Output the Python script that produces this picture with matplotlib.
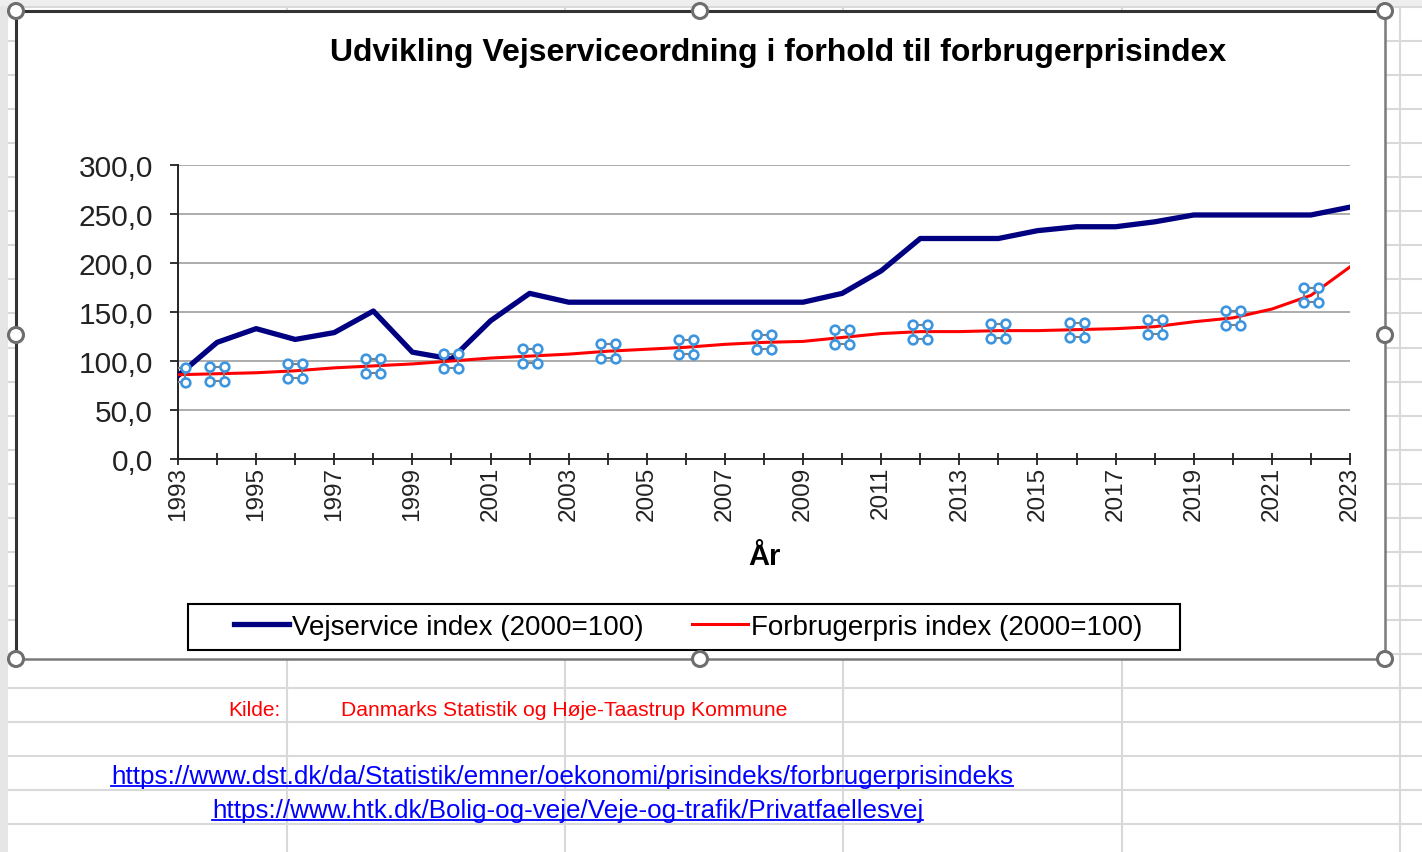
import matplotlib
matplotlib.use("Agg")
import matplotlib.pyplot as plt
from matplotlib.path import Path
from matplotlib.patches import Rectangle, Circle
import numpy as np

plt.rcParams['font.family'] = ['Liberation Sans', 'DejaVu Sans']

# data
years = list(range(1993, 2024))
vejservice = [85, 119, 133, 122, 129, 151, 109, 102, 141, 169, 160, 160, 160, 160,
              160, 160, 160, 169, 192, 225, 225, 225, 233, 237, 237, 242, 249, 249,
              249, 249, 257]
forbrugerpris = [86, 87, 88, 90, 93, 95, 97, 100, 103, 105, 107, 110, 112, 114,
                 117, 119, 120, 124, 128, 130, 130, 131, 131, 132, 133, 135, 140,
                 144, 153, 167, 196]
handle_years = [1993, 1994, 1996, 1998, 2000, 2002, 2004, 2006, 2008, 2010,
                2012, 2014, 2016, 2018, 2020, 2022]
y_ticks = [0, 50, 100, 150, 200, 250, 300]
label_years = list(range(1993, 2024, 2))

title = "Udvikling Vejserviceordning i forhold til forbrugerprisindex"
serie1 = "Vejservice index (2000=100)"
serie2 = "Forbrugerpris index (2000=100)"
link1 = "https://www.dst.dk/da/Statistik/emner/oekonomi/prisindeks/forbrugerprisindeks"
link2 = "https://www.htk.dk/Bolig-og-veje/Veje-og-trafik/Privatfaellesvej"

W, H = 1422, 853
fig = plt.figure(figsize=(W / 100, H / 100), dpi=100)

# baggrund: regneark
bg = fig.add_axes([0, 0, 1, 1], zorder=0)
bg.set_xlim(0, W)
bg.set_ylim(H, 0)
bg.axis('off')
grid_c = '#d9d9d9'
y = 8.0
while y < H:
    bg.plot([8, W], [y, y], color=grid_c, lw=1.5, zorder=1)
    y += 34.05
for x in [287, 565, 843, 1122, 1400]:
    bg.plot([x, x], [0, H], color=grid_c, lw=1.5, zorder=1)
bg.add_patch(Rectangle((0, 0), 8, H, color='#e6e6e6', lw=0, zorder=2))
bg.add_patch(Rectangle((0, 0), W, 7, color='#eeeeee', lw=0, zorder=2))
# diagramomraade
bg.add_patch(Rectangle((16, 12), 1369, 648, facecolor='white', lw=0, zorder=3))
bg.plot([16, 1385], [12, 12], color='#333333', lw=2.2, zorder=4)
bg.plot([16, 16], [12, 660], color='#333333', lw=2.2, zorder=4)
bg.plot([1385, 1385], [12, 660], color='#7a7a7a', lw=1.8, zorder=4)
bg.plot([16, 1385], [660, 660], color='#7a7a7a', lw=1.8, zorder=4)
# legendeboks
bg.add_patch(Rectangle((188, 605), 992, 46, facecolor='white', edgecolor='black',
                       lw=1.5, zorder=5))

# selve diagrammet
ax = fig.add_axes([178 / W, 1 - 460 / H, (1350 - 178) / W, (460 - 166) / H], zorder=2)
ax.patch.set_alpha(0)
l1, = ax.plot(years, vejservice, color='#000080', lw=3.8, solid_joinstyle='round', zorder=4)
l2, = ax.plot(years, forbrugerpris, color='#ff0000', lw=2.2, zorder=5)

# markeringshaandtag paa punkterne
hx = handle_years
hy = [forbrugerpris[years.index(v)] for v in handle_years]
circ = [Path.circle((cx, cy), 0.6) for cx in (-1, 1) for cy in (-1, 1)]
four = Path.make_compound_path(*circ)
ax.plot(hx, hy, ls='none', marker='s', ms=10, mfc='none', mec='#7f7f7f', mew=1.5, zorder=6)
ax.plot(hx, hy, ls='none', marker=four, ms=17, mfc='white', mec='#3d95e0', mew=1.9, zorder=7)

ax.set_xlim(1993, 2023)
ax.set_ylim(0, 300)
ax.set_yticks(y_ticks)
ax.set_yticklabels([f"{v},0" for v in y_ticks])
ax.set_xticks(label_years)
ax.set_xticks(years, minor=True)
ax.set_xticklabels([str(v) for v in label_years], rotation=90)
ax.grid(axis='y', color='#a6a6a6', lw=1.3)
ax.set_axisbelow(True)
for s in ['top', 'right']:
    ax.spines[s].set_visible(False)
for s in ['left', 'bottom']:
    ax.spines[s].set_color('#222222')
    ax.spines[s].set_linewidth(1.4)
ax.tick_params(axis='y', direction='out', length=6, width=1.3, colors='#222222',
               labelsize=21.5, pad=12)
ax.tick_params(axis='x', which='both', direction='inout', length=8, width=1.3,
               colors='#222222', labelsize=17.5, pad=1)
ax.set_xlabel("År", fontsize=21, fontweight='bold', labelpad=16)

fig.text(778 / W, 1 - 53 / H, title, ha='center', va='center', fontsize=23,
         fontweight='bold', color='black', zorder=6)

fig.legend([l1, l2], [serie1, serie2], loc='center', bbox_to_anchor=(688 / W, 1 - 628 / H),
           ncol=2, frameon=False, fontsize=20, handlelength=2.0, handletextpad=0.1,
           columnspacing=1.75)

# kilde og links
fig.text(281 / W, 1 - 716 / H, "Kilde:", ha='right', va='baseline', color='#ff0000', fontsize=15)
fig.text(341 / W, 1 - 716 / H, "Danmarks Statistik og Høje-Taastrup Kommune", ha='left',
         va='baseline', color='#ff0000', fontsize=15.2)
t1 = fig.text(111 / W, 1 - 784 / H, link1, ha='left', va='baseline', color='#0000ff', fontsize=18.8)
t2 = fig.text(212 / W, 1 - 818 / H, link2, ha='left', va='baseline', color='#0000ff', fontsize=18.7)
fig.canvas.draw()
r = fig.canvas.get_renderer()
for t, base in [(t1, 784), (t2, 818)]:
    bb = t.get_window_extent(r)
    bg.plot([bb.x0, bb.x1], [base + 3, base + 3], color='#0000ff', lw=1.3, zorder=6)

# haandtag paa diagramrammen
ov = fig.add_axes([0, 0, 1, 1], zorder=10)
ov.set_xlim(0, W)
ov.set_ylim(H, 0)
ov.axis('off')
ov.patch.set_alpha(0)
for cx, cy in [(16, 12), (700, 12), (1385, 12), (16, 336), (1385, 336),
               (16, 660), (700, 660), (1385, 660)]:
    ov.add_patch(Circle((cx, cy), 7.5, facecolor='white', edgecolor='#6e6e6e', lw=2.2))

fig.savefig("out.png", dpi=100)
